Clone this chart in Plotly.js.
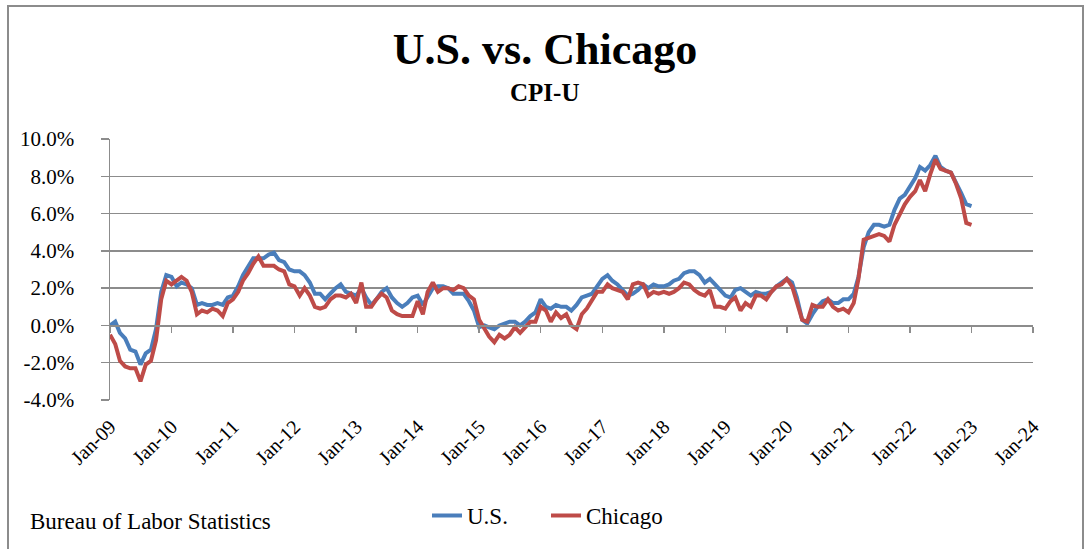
<!DOCTYPE html>
<html>
<head>
<meta charset="utf-8">
<script src="https://cdn.plot.ly/plotly-3.0.1.min.js"></script>
<style>
  html, body { margin: 0; padding: 0; background: #ffffff; overflow: hidden; }
  #frame { position: absolute; left: 7px; top: 5px; width: 1077px; height: 600px;
           border: 2px solid #8c8c8c; box-sizing: border-box; }
  #chart { position: absolute; left: 0; top: 0; width: 1085px; height: 549px; }
</style>
</head>
<body>
<div id="frame"></div>
<div id="chart"></div>
<script>
// Monthly 12-month % change, Jan 2009 .. Jan 2023
const startYear = 2009;
const usValues = [
  0.0, 0.2, -0.4, -0.7, -1.3, -1.4, -2.1, -1.5, -1.3, -0.2, 1.8, 2.7,
  2.6, 2.1, 2.3, 2.2, 2.0, 1.1, 1.2, 1.1, 1.1, 1.2, 1.1, 1.5,
  1.6, 2.1, 2.7, 3.2, 3.6, 3.6, 3.6, 3.8, 3.9, 3.5, 3.4, 3.0,
  2.9, 2.9, 2.7, 2.3, 1.7, 1.7, 1.4, 1.7, 2.0, 2.2, 1.8, 1.7,
  1.6, 2.0, 1.5, 1.1, 1.4, 1.8, 2.0, 1.5, 1.2, 1.0, 1.2, 1.5,
  1.6, 1.1, 1.5, 2.0, 2.1, 2.1, 2.0, 1.7, 1.7, 1.7, 1.3, 0.8,
  -0.1, 0.0, -0.1, -0.2, 0.0, 0.1, 0.2, 0.2, 0.0, 0.2, 0.5, 0.7,
  1.4, 1.0, 0.9, 1.1, 1.0, 1.0, 0.8, 1.1, 1.5, 1.6, 1.7, 2.1,
  2.5, 2.7, 2.4, 2.2, 1.9, 1.6, 1.7, 1.9, 2.2, 2.0, 2.2, 2.1,
  2.1, 2.2, 2.4, 2.5, 2.8, 2.9, 2.9, 2.7, 2.3, 2.5, 2.2, 1.9,
  1.6, 1.5, 1.9, 2.0, 1.8, 1.6, 1.8, 1.7, 1.7, 1.8, 2.1, 2.3,
  2.5, 2.3, 1.5, 0.3, 0.1, 0.6, 1.0, 1.3, 1.4, 1.2, 1.2, 1.4,
  1.4, 1.7, 2.6, 4.2, 5.0, 5.4, 5.4, 5.3, 5.4, 6.2, 6.8, 7.0,
  7.5, 7.9, 8.5, 8.3, 8.6, 9.1, 8.5, 8.3, 8.2, 7.7, 7.1, 6.5,
  6.4
];
const chicagoValues = [
  -0.5, -1.0, -1.9, -2.2, -2.3, -2.3, -3.0, -2.1, -1.9, -0.8, 1.4, 2.4,
  2.2, 2.4, 2.6, 2.4, 1.8, 0.6, 0.8, 0.7, 0.9, 0.8, 0.5, 1.2,
  1.4, 1.8, 2.4, 2.8, 3.3, 3.7, 3.2, 3.2, 3.2, 3.0, 2.9, 2.2,
  2.1, 1.6, 2.0, 1.6, 1.0, 0.9, 1.0, 1.4, 1.6, 1.6, 1.5, 1.7,
  1.2, 2.3, 1.0, 1.0, 1.4, 1.7, 1.5, 0.8, 0.6, 0.5, 0.5, 0.5,
  1.3, 0.6, 1.8, 2.3, 1.8, 2.0, 2.0, 1.9, 2.1, 2.0, 1.6, 1.4,
  0.3, -0.2, -0.6, -0.9, -0.5, -0.7, -0.5, -0.1, -0.4, -0.1, 0.2, 0.2,
  1.0, 0.8, 0.2, 0.7, 0.4, 0.6, 0.0, -0.2, 0.6, 0.9, 1.4, 1.8,
  1.8, 2.2, 2.0, 1.9, 1.8, 1.4, 2.2, 2.3, 2.2, 1.6, 1.8, 1.7,
  1.8, 1.7, 1.8, 2.0, 2.3, 2.2, 1.9, 1.7, 1.6, 1.9, 1.0, 1.0,
  0.9, 1.3, 1.5, 0.8, 1.2, 1.0, 1.6, 1.6, 1.4, 1.8, 2.1, 2.2,
  2.5, 2.1, 1.2, 0.3, 0.2, 1.1, 1.0, 1.0, 1.4, 1.0, 0.8, 0.9,
  0.7, 1.2, 2.5, 4.6, 4.7, 4.8, 4.9, 4.8, 4.5, 5.4, 6.0, 6.5,
  6.9, 7.2, 7.8, 7.2, 8.1, 8.9, 8.4, 8.3, 8.2, 7.6, 6.8, 5.5,
  5.4
];
const yTickVals = [-4, -2, 0, 2, 4, 6, 8, 10];
const yTickText = ['-4.0%', '-2.0%', '0.0%', '2.0%', '4.0%', '6.0%', '8.0%', '10.0%'];
const xTickYears = [2009, 2010, 2011, 2012, 2013, 2014, 2015, 2016, 2017, 2018, 2019, 2020, 2021, 2022, 2023, 2024];
const xTickText = ['Jan-09','Jan-10','Jan-11','Jan-12','Jan-13','Jan-14','Jan-15','Jan-16','Jan-17','Jan-18','Jan-19','Jan-20','Jan-21','Jan-22','Jan-23','Jan-24'];

function monthDates(n) {
  const out = [];
  for (let i = 0; i < n; i++) {
    const y = startYear + Math.floor(i / 12);
    const m = (i % 12) + 1;
    out.push(y + '-' + String(m).padStart(2, '0') + '-01');
  }
  return out;
}
const dates = monthDates(usValues.length);
const xTickVals = xTickYears.map(y => y + '-01-01');

const serif = "'Liberation Serif', 'Times New Roman', Times, serif";
const grid = '#8c8c8c';
const xRange = ['2009-01-01', '2024-01-01'];
const PW = 923, PH = 262.7, ML = 110, MB = 147.3, H = 549;
const px = v => (v - ML) / PW;          // page x -> paper x
const py = v => (H - MB - v) / PH;      // page y -> paper y

const traces = [
  { x: dates, y: usValues, name: 'U.S.', type: 'scatter', mode: 'lines',
    line: { color: '#4a7ebb', width: 4 }, xaxis: 'x', yaxis: 'y' },
  { x: dates, y: chicagoValues, name: 'Chicago', type: 'scatter', mode: 'lines',
    line: { color: '#be4b48', width: 4 }, xaxis: 'x2', yaxis: 'y' }
];

const layout = {
  width: 1085, height: 549,
  margin: { l: ML, r: 52, t: 139, b: MB, pad: 0 },
  paper_bgcolor: 'rgba(0,0,0,0)',
  plot_bgcolor: 'rgba(0,0,0,0)',
  font: { family: serif, color: '#000000', size: 19 },
  title: {
    text: 'U.S. vs. Chicago',
    font: { family: serif, size: 44, weight: 'bold', color: '#000' },
    x: 545 / 1085, xanchor: 'center', xref: 'container',
    y: 1 - 49 / 549, yanchor: 'middle', yref: 'container'
  },
  annotations: [
    { text: 'CPI-U', xref: 'paper', yref: 'paper', x: px(544), xanchor: 'center',
      y: py(92), yanchor: 'middle', showarrow: false,
      font: { family: serif, size: 25, weight: 'bold', color: '#000' } },
    { text: 'Bureau of Labor Statistics', xref: 'paper', yref: 'paper',
      x: px(28), xanchor: 'left',
      y: py(524), yanchor: 'middle', showarrow: false,
      font: { family: serif, size: 23, color: '#000' } }
  ],
  xaxis: {
    type: 'date', range: xRange, tickvals: xTickVals, ticktext: xTickText,
    tickangle: -45, ticks: '', showline: false, showgrid: false, zeroline: false,
    tickfont: { family: serif, size: 20 }, ticklabelstandoff: 10, fixedrange: true
  },
  xaxis2: {
    type: 'date', range: xRange, tickvals: xTickVals, overlaying: 'x',
    anchor: 'free', position: 4 / 14, side: 'bottom',
    showticklabels: false, ticks: 'outside', ticklen: 6, tickwidth: 1.5, tickcolor: grid,
    showline: true, linecolor: grid, linewidth: 1.5, showgrid: false, zeroline: false,
    fixedrange: true
  },
  yaxis: {
    range: [-4, 10], tickvals: yTickVals, ticktext: yTickText,
    showgrid: true, gridcolor: grid, gridwidth: 1.5, zeroline: false,
    showline: true, linecolor: grid, linewidth: 1.5,
    ticks: 'outside', ticklen: 8, tickwidth: 1.5, tickcolor: grid,
    tickfont: { family: serif, size: 21 }, ticklabelstandoff: 22, fixedrange: true
  },
  showlegend: true,
  legend: {
    orientation: 'h', x: px(427), xanchor: 'left', xref: 'paper',
    y: py(518), yanchor: 'middle', yref: 'paper',
    font: { family: serif, size: 23, color: '#000' },
    bgcolor: 'rgba(0,0,0,0)', entrywidth: 74, entrywidthmode: 'pixels',
    itemwidth: 30, tracegroupgap: 0
  }
};

Plotly.newPlot('chart', traces, layout, { displayModeBar: false, staticPlot: true });
</script>
</body>
</html>
